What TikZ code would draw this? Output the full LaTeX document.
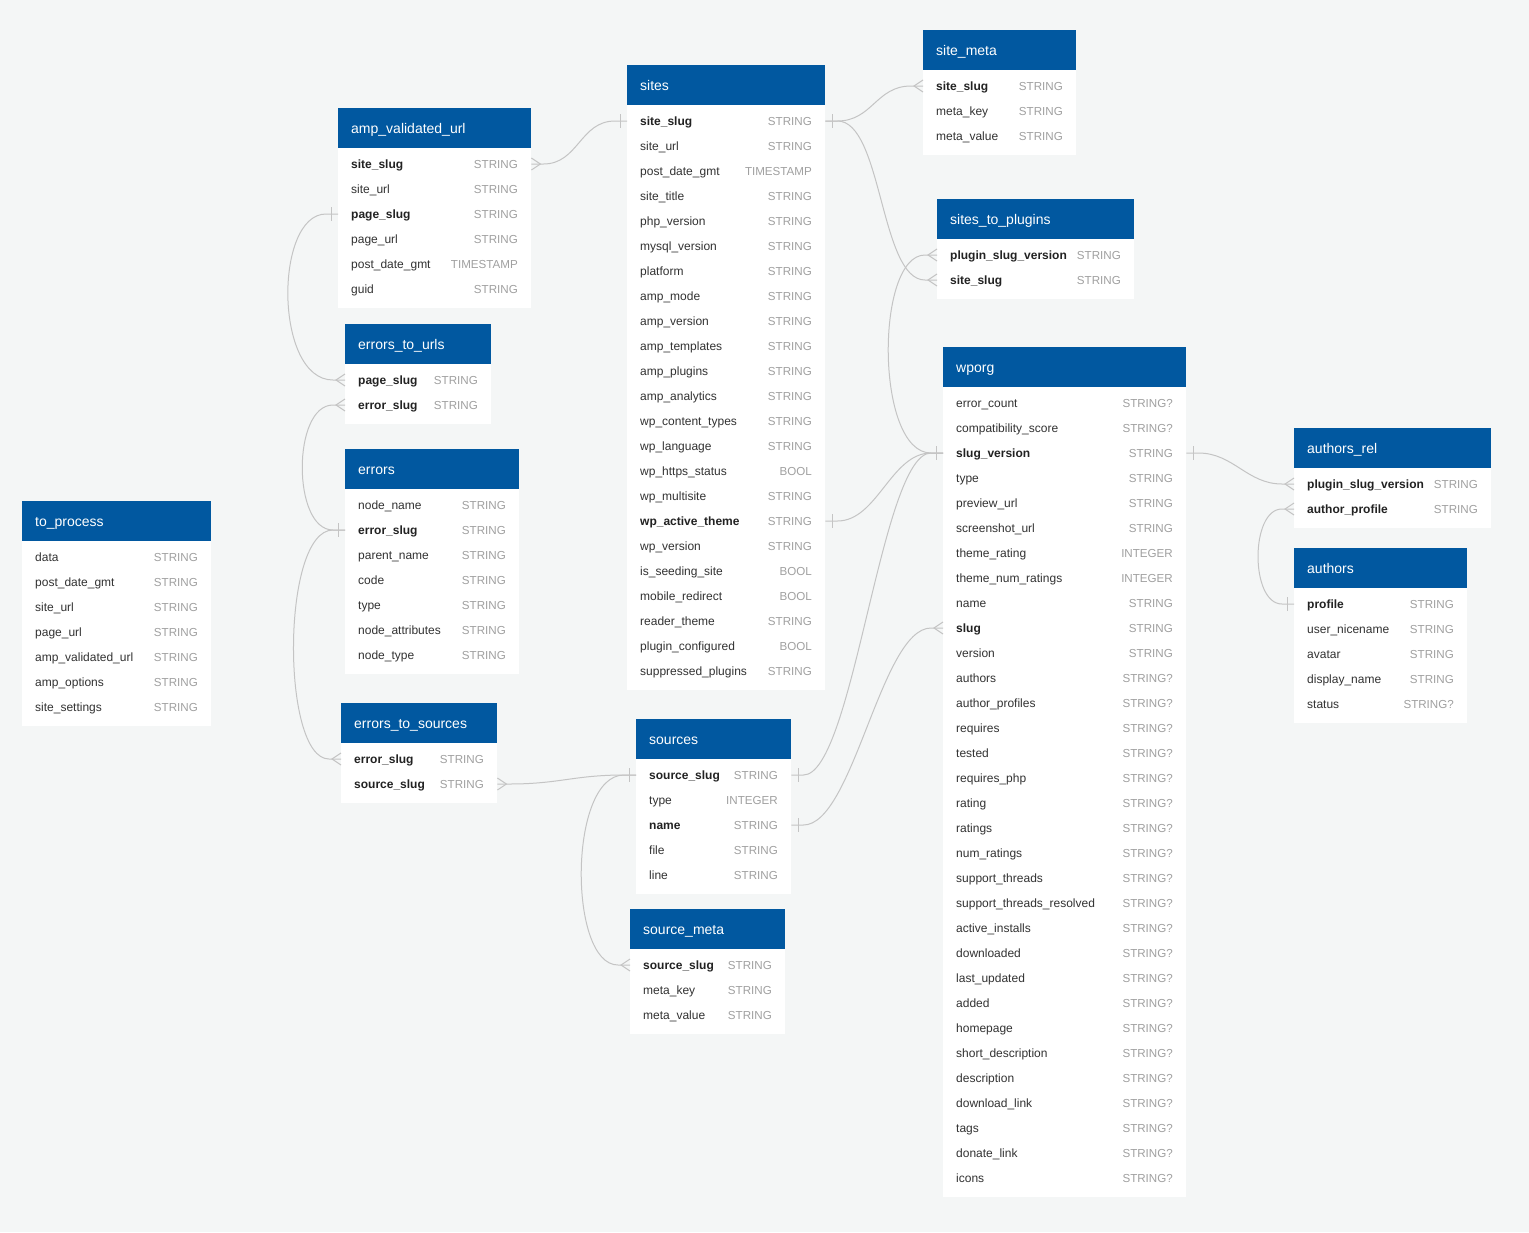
\documentclass[tikz,border=0pt]{standalone}
\usepackage{fontspec}
\setmainfont{Liberation Sans}
\usetikzlibrary{calc}
\definecolor{bg}{RGB}{244,246,246}
\definecolor{hdr}{RGB}{1,88,160}
\definecolor{fld}{RGB}{50,50,50}
\definecolor{fldb}{RGB}{34,34,34}
\definecolor{typ}{RGB}{160,160,160}
\definecolor{lnk}{RGB}{196,196,196}
\newcommand\fntb{\bfseries\color{fldb}}
\newcommand\fntn{}
\tikzset{
  x=1pt, y=-1pt,
  hdrbox/.style={fill=hdr, draw=none, anchor=north west, minimum height=40pt, inner sep=0pt},
  hdrtxt/.style={text=white, font=\fontsize{14}{16}\selectfont, anchor=base west, inner sep=0pt},
  rowbox/.style={inner sep=0pt, minimum height=25pt, anchor=west},
  fieldtxt/.style={text=fld, font=\fontsize{12}{14}\selectfont, anchor=base west, inner sep=0pt},
  typetxt/.style={text=typ, font=\fontsize{11.6}{14}\selectfont, anchor=base east, inner sep=0pt},
  conn/.style={draw=lnk, line width=1pt},
}
% #1 id, #2 x, #3 y, #4 width, #5 title, #6 rows, #7 data
\newcommand\erdtab[7]{%
  \node[hdrbox, minimum width=#4pt] (#1) at (#2,#3) {};
  \node[hdrtxt] (#1-title) at ($(#1.west)+(13,5)$) {#5};
  \fill[white] (#2,#3+40) rectangle ++(#4,#6*25+10);
  \foreach \fn/\ft/\fk [count=\i] in {#7} {
    \pgfmathsetmacro\ry{#3+31+25*\i}
    \node[rowbox, minimum width=#4pt] (#1-\fn) at (#2,\ry) {};
    \node[fieldtxt] at (#2+13,\ry+4.4) {\csname fnt\fk\endcsname\fn};
    \node[typetxt] at (#2+#4-13,\ry+4.2) {\ft};
  }
}
% connectors
\newcommand\linkEW[4]{\draw[conn] (#1.east) -- ++(12,0) .. controls +(#3,0) and +(-#4,0) .. ($(#2.west)+(-12,0)$) -- (#2.west);}
\newcommand\linkWW[4]{\draw[conn] (#1.west) -- ++(-12,0) .. controls +(-#3,0) and +(-#4,0) .. ($(#2.west)+(-12,0)$) -- (#2.west);}
\newcommand\mkbarW[1]{\draw[conn] ($(#1.west)+(-7,-7)$) -- ++(0,14);}
\newcommand\mkbarE[1]{\draw[conn] ($(#1.east)+(7,-7)$) -- ++(0,14);}
\newcommand\mkcrowW[1]{\draw[conn] ($(#1.west)+(0,-6)$) -- ($(#1.west)+(-9,0)$) -- ($(#1.west)+(0,6)$);}
\newcommand\mkcrowE[1]{\draw[conn] ($(#1.east)+(0,-6)$) -- ($(#1.east)+(9,0)$) -- ($(#1.east)+(0,6)$);}
\begin{document}
\catcode`\_=12
\begin{tikzpicture}
\fill[bg] (0,0) rectangle (1529,1232);
\useasboundingbox (0,0) rectangle (1529,1232);

\erdtab{amp_validated_url}{338}{108}{193}{amp_validated_url}{6}{
  site_slug/STRING/b, site_url/STRING/n, page_slug/STRING/b, page_url/STRING/n,
  post_date_gmt/TIMESTAMP/n, guid/STRING/n}

\erdtab{sites}{627}{65}{198}{sites}{23}{
  site_slug/STRING/b, site_url/STRING/n, post_date_gmt/TIMESTAMP/n, site_title/STRING/n,
  php_version/STRING/n, mysql_version/STRING/n, platform/STRING/n, amp_mode/STRING/n,
  amp_version/STRING/n, amp_templates/STRING/n, amp_plugins/STRING/n, amp_analytics/STRING/n,
  wp_content_types/STRING/n, wp_language/STRING/n, wp_https_status/BOOL/n, wp_multisite/STRING/n,
  wp_active_theme/STRING/b, wp_version/STRING/n, is_seeding_site/BOOL/n, mobile_redirect/BOOL/n,
  reader_theme/STRING/n, plugin_configured/BOOL/n, suppressed_plugins/STRING/n}

\erdtab{site_meta}{923}{30}{153}{site_meta}{3}{
  site_slug/STRING/b, meta_key/STRING/n, meta_value/STRING/n}

\erdtab{sites_to_plugins}{937}{199}{197}{sites_to_plugins}{2}{
  plugin_slug_version/STRING/b, site_slug/STRING/b}

\erdtab{wporg}{943}{347}{243}{wporg}{32}{
  error_count/STRING?/n, compatibility_score/STRING?/n, slug_version/STRING/b, type/STRING/n,
  preview_url/STRING/n, screenshot_url/STRING/n, theme_rating/INTEGER/n, theme_num_ratings/INTEGER/n,
  name/STRING/n, slug/STRING/b, version/STRING/n, authors/STRING?/n,
  author_profiles/STRING?/n, requires/STRING?/n, tested/STRING?/n, requires_php/STRING?/n,
  rating/STRING?/n, ratings/STRING?/n, num_ratings/STRING?/n, support_threads/STRING?/n,
  support_threads_resolved/STRING?/n, active_installs/STRING?/n, downloaded/STRING?/n, last_updated/STRING?/n,
  added/STRING?/n, homepage/STRING?/n, short_description/STRING?/n, description/STRING?/n,
  download_link/STRING?/n, tags/STRING?/n, donate_link/STRING?/n, icons/STRING?/n}

\erdtab{authors_rel}{1294}{428}{197}{authors_rel}{2}{
  plugin_slug_version/STRING/b, author_profile/STRING/b}

\erdtab{authors}{1294}{548}{173}{authors}{5}{
  profile/STRING/b, user_nicename/STRING/n, avatar/STRING/n, display_name/STRING/n, status/STRING?/n}

\erdtab{errors_to_urls}{345}{324}{146}{errors_to_urls}{2}{
  page_slug/STRING/b, error_slug/STRING/b}

\erdtab{errors}{345}{449}{174}{errors}{7}{
  node_name/STRING/n, error_slug/STRING/b, parent_name/STRING/n, code/STRING/n,
  type/STRING/n, node_attributes/STRING/n, node_type/STRING/n}

\erdtab{errors_to_sources}{341}{703}{156}{errors_to_sources}{2}{
  error_slug/STRING/b, source_slug/STRING/b}

\erdtab{to_process}{22}{501}{189}{to_process}{7}{
  data/STRING/n, post_date_gmt/STRING/n, site_url/STRING/n, page_url/STRING/n,
  amp_validated_url/STRING/n, amp_options/STRING/n, site_settings/STRING/n}

\erdtab{sources}{636}{719}{155}{sources}{5}{
  source_slug/STRING/b, type/INTEGER/n, name/STRING/b, file/STRING/n, line/STRING/n}

\erdtab{source_meta}{630}{909}{155}{source_meta}{3}{
  source_slug/STRING/b, meta_key/STRING/n, meta_value/STRING/n}

% relations
\linkEW{amp_validated_url-site_slug}{sites-site_slug}{35}{35}
\linkEW{sites-site_slug}{site_meta-site_slug}{35}{35}
\linkEW{sites-site_slug}{sites_to_plugins-site_slug}{45}{45}
\linkEW{sites-wp_active_theme}{wporg-slug_version}{40}{40}
\linkWW{sites_to_plugins-plugin_slug_version}{wporg-slug_version}{50}{56}
\linkEW{sources-source_slug}{wporg-slug_version}{50}{50}
\linkEW{sources-name}{wporg-slug}{50}{50}
\linkEW{wporg-slug_version}{authors_rel-plugin_slug_version}{35}{35}
\linkWW{authors_rel-author_profile}{authors-profile}{32}{32}
\linkWW{amp_validated_url-page_slug}{errors_to_urls-page_slug}{52}{59}
\linkWW{errors_to_urls-error_slug}{errors-error_slug}{41}{41}
\linkWW{errors-error_slug}{errors_to_sources-error_slug}{52}{48}
\linkEW{errors_to_sources-source_slug}{sources-source_slug}{50}{50}
\linkWW{sources-source_slug}{source_meta-source_slug}{56}{50}

% one-ends
\mkbarW{sites-site_slug}
\mkbarE{sites-site_slug}
\mkbarE{sites-wp_active_theme}
\mkbarW{wporg-slug_version}
\mkbarE{wporg-slug_version}
\mkbarW{authors-profile}
\mkbarW{amp_validated_url-page_slug}
\mkbarW{errors-error_slug}
\mkbarW{sources-source_slug}
\mkbarE{sources-source_slug}
\mkbarE{sources-name}

% many-ends
\mkcrowE{amp_validated_url-site_slug}
\mkcrowW{site_meta-site_slug}
\mkcrowW{sites_to_plugins-site_slug}
\mkcrowW{sites_to_plugins-plugin_slug_version}
\mkcrowW{wporg-slug}
\mkcrowW{authors_rel-plugin_slug_version}
\mkcrowW{authors_rel-author_profile}
\mkcrowW{errors_to_urls-page_slug}
\mkcrowW{errors_to_urls-error_slug}
\mkcrowW{errors_to_sources-error_slug}
\mkcrowE{errors_to_sources-source_slug}
\mkcrowW{source_meta-source_slug}
\end{tikzpicture}
\end{document}
